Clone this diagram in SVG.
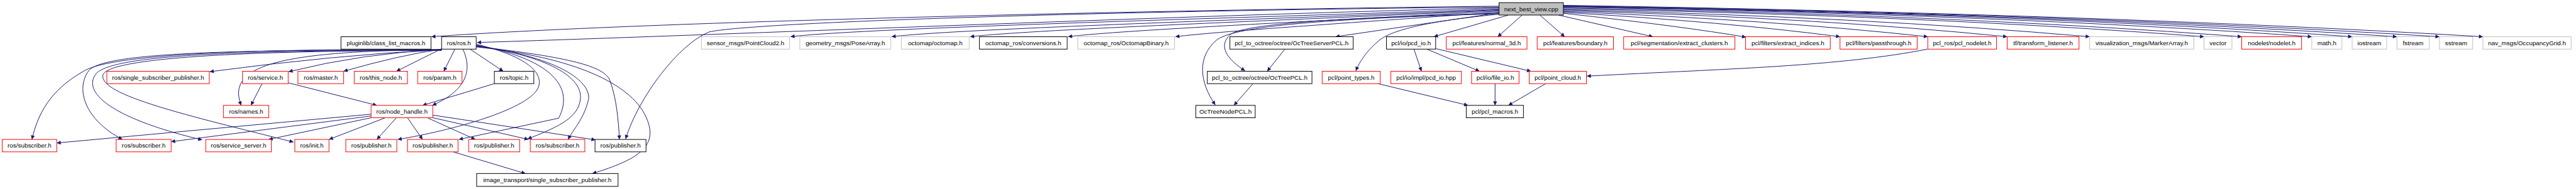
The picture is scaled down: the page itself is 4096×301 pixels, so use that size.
<svg xmlns="http://www.w3.org/2000/svg" width="4096" height="301" viewBox="0 0 4096 301">
<style>
.e{fill:none;stroke:#191970;stroke-width:1.4;marker-end:url(#ah)}
rect{stroke-width:1.4}
.b{fill:#fff;stroke:#000}
.r{fill:#fff;stroke:#ff0000}
.g{fill:#fff;stroke:#bfbfbf}
.root{fill:#bfbfbf;stroke:#000}
text{font-family:"Liberation Sans",Arial,sans-serif;font-size:14px;text-anchor:middle;fill:#000}
</style>
<defs>
<marker id="ah" viewBox="0 0 10 10" refX="10" refY="5" markerWidth="12" markerHeight="9" markerUnits="userSpaceOnUse" orient="auto">
<path d="M0,0 L10,5 L0,10 z" fill="#191970"/>
</marker>
</defs>
<rect x="0" y="0" width="4096" height="301" fill="#fff"/>
<g transform="scale(0.705)">
<g id="edges">
<path class="e" d="M3381,14 C2800,20 1500,45 973,83"/>
<path class="e" d="M3381,18 C2800,30 1600,80 1076,96"/>
<path class="e" d="M3381,20 C2900,38 1950,62 1783,83"/>
<path class="e" d="M3381,22 C2950,40 2150,65 2011,83"/>
<path class="e" d="M3381,23 C3000,42 2330,66 2188,83"/>
<path class="e" d="M3381,25 C3050,44 2520,68 2409,83"/>
<path class="e" d="M3381,27 C3150,45 2750,70 2651,83"/>
<path class="e" d="M3381,29 L3012,83"/>
<path class="e" d="M3381,16 C2500,24 1700,50 1600,72 C1530,100 1440,220 1411,314"/>
<path class="e" d="M3381,30 C3100,38 2810,50 2775,78 C2745,105 2770,135 2808,160"/>
<path class="e" d="M3381,31 C3000,42 2780,58 2742,92 C2700,130 2705,185 2741,237"/>
<path class="e" d="M3381,32 C3250,45 3150,62 3112,90 C3082,115 3066,140 3058,160"/>
<path class="e" d="M3402,34 L3234,83"/>
<path class="e" d="M3433,34 L3378,83"/>
<path class="e" d="M3473,34 L3529,83"/>
<path class="e" d="M3515,34 L3728,83"/>
<path class="e" d="M3526,30 Q3800,60 3938,84"/>
<path class="e" d="M3526,28 Q3900,50 4150,83"/>
<path class="e" d="M3526,26 Q4000,45 4348,83"/>
<path class="e" d="M3526,24 Q4100,40 4527,83"/>
<path class="e" d="M3526,22 Q4200,38 4713,83"/>
<path class="e" d="M3526,20 Q4350,35 4971,83"/>
<path class="e" d="M3526,18 Q4400,33 5056,83"/>
<path class="e" d="M3526,16 Q4500,32 5214,83"/>
<path class="e" d="M3526,15 Q4600,32 5305,83"/>
<path class="e" d="M3526,14 Q4650,32 5406,83"/>
<path class="e" d="M3526,13 Q4700,32 5502,83"/>
<path class="e" d="M3526,12 Q4750,32 5600,83"/>
<path class="e" d="M996,110 L894,161"/>
<path class="e" d="M996,111 Q900,125 775,161"/>
<path class="e" d="M996,112 Q820,120 651,162"/>
<path class="e" d="M996,112 Q750,125 473,162"/>
<path class="e" d="M996,112 C620,115 510,150 544,238"/>
<path class="e" d="M996,112 C600,110 260,120 190,160 C110,205 85,260 72,315"/>
<path class="e" d="M996,113 C500,112 230,120 200,160 C170,200 190,270 276,315"/>
<path class="e" d="M996,113 C520,114 260,125 218,165 C180,210 260,270 456,316"/>
<path class="e" d="M996,114 C560,114 240,130 232,170 C225,215 420,260 662,321"/>
<path class="e" d="M1044,111 C1062,150 1062,200 975,238"/>
<path class="e" d="M1026,111 L1001,161"/>
<path class="e" d="M1060,111 L1135,161"/>
<path class="e" d="M1074,100 C1180,125 1225,160 1215,195 C1200,245 1020,295 897,315"/>
<path class="e" d="M1074,102 C1230,130 1300,190 1260,267 L1035,315"/>
<path class="e" d="M1074,103 C1250,130 1320,180 1308,230 C1300,270 1250,290 1190,314"/>
<path class="e" d="M1074,104 C1270,130 1340,190 1326,230 C1315,270 1295,290 1281,315"/>
<path class="e" d="M1074,105 C1290,130 1360,150 1375,180 C1390,220 1395,270 1397,315"/>
<path class="e" d="M1074,106 C1300,130 1420,190 1455,260 C1490,330 1440,360 1336,392"/>
<path class="e" d="M837,258 L128,323"/>
<path class="e" d="M837,262 L386,320"/>
<path class="e" d="M837,266 L606,315"/>
<path class="e" d="M869,266 L742,315"/>
<path class="e" d="M894,266 L850,315"/>
<path class="e" d="M919,266 L953,315"/>
<path class="e" d="M966,267 L1072,315"/>
<path class="e" d="M972,265 L1192,315"/>
<path class="e" d="M976,260 L1343,316"/>
<path class="e" d="M591,189 L566,238"/>
<path class="e" d="M650,187 L850,238"/>
<path class="e" d="M1115,189 L953,238"/>
<path class="e" d="M1022,343 L1185,392"/>
<path class="e" d="M2898,111 L2858,161"/>
<path class="e" d="M2826,189 L2783,238"/>
<path class="e" d="M3189,111 L3206,161"/>
<path class="e" d="M3218,111 L3337,161"/>
<path class="e" d="M3239,110 L3453,161"/>
<path class="e" d="M3108,189 L3311,238"/>
<path class="e" d="M3372,189 L3372,238"/>
<path class="e" d="M3486,189 L3402,238"/>
<path class="e" d="M4347,111 C4150,150 3900,155 3579,172"/>
</g>
<g id="n_root"><rect class="root" x="3381" y="6" width="145" height="28"/><text x="3453.5" y="25">next_best_view.cpp</text></g>
<g id="n_pluginlib"><rect class="b" x="769" y="83" width="203" height="28"/><text x="870.5" y="102">pluginlib/class_list_macros.h</text></g>
<g id="n_ros"><rect class="b" x="996" y="83" width="78" height="28"/><text x="1035" y="102">ros/ros.h</text></g>
<g id="n_pc2"><rect class="g" x="1582" y="83" width="199" height="28"/><text x="1681.5" y="102">sensor_msgs/PointCloud2.h</text></g>
<g id="n_posearray"><rect class="g" x="1804" y="83" width="205" height="28"/><text x="1906.5" y="102">geometry_msgs/PoseArray.h</text></g>
<g id="n_octomap"><rect class="g" x="2033" y="83" width="153" height="28"/><text x="2109.5" y="102">octomap/octomap.h</text></g>
<g id="n_conversions"><rect class="b" x="2209" y="83" width="198" height="28"/><text x="2308" y="102">octomap_ros/conversions.h</text></g>
<g id="n_octobin"><rect class="g" x="2431" y="83" width="218" height="28"/><text x="2540" y="102">octomap_ros/OctomapBinary.h</text></g>
<g id="n_octserver"><rect class="b" x="2774" y="83" width="278" height="28"/><text x="2913" y="102">pcl_to_octree/octree/OcTreeServerPCL.h</text></g>
<g id="n_pcdio"><rect class="b" x="3127" y="83" width="111" height="28"/><text x="3182.5" y="102">pcl/io/pcd_io.h</text></g>
<g id="n_normal"><rect class="r" x="3262" y="83" width="182" height="28"/><text x="3353" y="102">pcl/features/normal_3d.h</text></g>
<g id="n_boundary"><rect class="r" x="3467" y="83" width="172" height="28"/><text x="3553" y="102">pcl/features/boundary.h</text></g>
<g id="n_clusters"><rect class="r" x="3662" y="83" width="251" height="28"/><text x="3787.5" y="102">pcl/segmentation/extract_clusters.h</text></g>
<g id="n_indices"><rect class="r" x="3937" y="83" width="191" height="28"/><text x="4032.5" y="102">pcl/filters/extract_indices.h</text></g>
<g id="n_pass"><rect class="r" x="4150" y="83" width="174" height="28"/><text x="4237" y="102">pcl/filters/passthrough.h</text></g>
<g id="n_pclnodelet"><rect class="r" x="4348" y="83" width="155" height="28"/><text x="4425.5" y="102">pcl_ros/pcl_nodelet.h</text></g>
<g id="n_tf"><rect class="r" x="4527" y="83" width="162" height="28"/><text x="4608" y="102">tf/transform_listener.h</text></g>
<g id="n_marker"><rect class="g" x="4713" y="83" width="235" height="28"/><text x="4830.5" y="102">visualization_msgs/MarkerArray.h</text></g>
<g id="n_vector"><rect class="g" x="4971" y="83" width="63" height="28"/><text x="5002.5" y="102">vector</text></g>
<g id="n_nodelet"><rect class="r" x="5056" y="83" width="135" height="28"/><text x="5123.5" y="102">nodelet/nodelet.h</text></g>
<g id="n_math"><rect class="g" x="5214" y="83" width="68" height="28"/><text x="5248" y="102">math.h</text></g>
<g id="n_iostream"><rect class="g" x="5305" y="83" width="78" height="28"/><text x="5344" y="102">iostream</text></g>
<g id="n_fstream"><rect class="g" x="5406" y="83" width="73" height="28"/><text x="5442.5" y="102">fstream</text></g>
<g id="n_sstream"><rect class="g" x="5502" y="83" width="75" height="28"/><text x="5539.5" y="102">sstream</text></g>
<g id="n_occgrid"><rect class="g" x="5600" y="83" width="199" height="28"/><text x="5699.5" y="102">nav_msgs/OccupancyGrid.h</text></g>
<g id="n_ssp"><rect class="r" x="241" y="161" width="231" height="28"/><text x="356.5" y="180">ros/single_subscriber_publisher.h</text></g>
<g id="n_service"><rect class="r" x="547" y="161" width="103" height="28"/><text x="598.5" y="180">ros/service.h</text></g>
<g id="n_master"><rect class="r" x="672" y="161" width="103" height="28"/><text x="723.5" y="180">ros/master.h</text></g>
<g id="n_thisnode"><rect class="r" x="799" y="161" width="120" height="28"/><text x="859" y="180">ros/this_node.h</text></g>
<g id="n_param"><rect class="r" x="942" y="161" width="100" height="28"/><text x="992" y="180">ros/param.h</text></g>
<g id="n_topic"><rect class="b" x="1115" y="161" width="89" height="28"/><text x="1159.5" y="180">ros/topic.h</text></g>
<g id="n_octpcl"><rect class="b" x="2723" y="161" width="236" height="28"/><text x="2841" y="180">pcl_to_octree/octree/OcTreePCL.h</text></g>
<g id="n_pointtypes"><rect class="r" x="2982" y="161" width="131" height="28"/><text x="3047.5" y="180">pcl/point_types.h</text></g>
<g id="n_pcdhpp"><rect class="r" x="3137" y="161" width="159" height="28"/><text x="3216.5" y="180">pcl/io/impl/pcd_io.hpp</text></g>
<g id="n_fileio"><rect class="r" x="3319" y="161" width="107" height="28"/><text x="3372.5" y="180">pcl/io/file_io.h</text></g>
<g id="n_pointcloud"><rect class="r" x="3449" y="161" width="129" height="28"/><text x="3513.5" y="180">pcl/point_cloud.h</text></g>
<g id="n_names"><rect class="r" x="504" y="238" width="102" height="28"/><text x="555" y="257">ros/names.h</text></g>
<g id="n_nodehandle"><rect class="r" x="837" y="238" width="139" height="28"/><text x="906.5" y="257">ros/node_handle.h</text></g>
<g id="n_octnode"><rect class="b" x="2697" y="238" width="134" height="28"/><text x="2764" y="257">OcTreeNodePCL.h</text></g>
<g id="n_pclmacros"><rect class="b" x="3307" y="238" width="129" height="28"/><text x="3371.5" y="257">pcl/pcl_macros.h</text></g>
<g id="n_sub1"><rect class="r" x="5" y="315" width="123" height="28"/><text x="66.5" y="334">ros/subscriber.h</text></g>
<g id="n_sub2"><rect class="r" x="262" y="315" width="124" height="28"/><text x="324" y="334">ros/subscriber.h</text></g>
<g id="n_srvserver"><rect class="r" x="464" y="315" width="148" height="28"/><text x="538" y="334">ros/service_server.h</text></g>
<g id="n_init"><rect class="r" x="665" y="315" width="77" height="28"/><text x="703.5" y="334">ros/init.h</text></g>
<g id="n_pub1"><rect class="r" x="780" y="315" width="115" height="28"/><text x="837.5" y="334">ros/publisher.h</text></g>
<g id="n_pub2"><rect class="r" x="919" y="315" width="114" height="28"/><text x="976" y="334">ros/publisher.h</text></g>
<g id="n_pub3"><rect class="r" x="1057" y="315" width="115" height="28"/><text x="1114.5" y="334">ros/publisher.h</text></g>
<g id="n_sub3"><rect class="r" x="1196" y="315" width="123" height="28"/><text x="1257.5" y="334">ros/subscriber.h</text></g>
<g id="n_pub4"><rect class="b" x="1342" y="315" width="115" height="28"/><text x="1399.5" y="334">ros/publisher.h</text></g>
<g id="n_itssp"><rect class="b" x="1075" y="392" width="319" height="29"/><text x="1234.5" y="411">image_transport/single_subscriber_publisher.h</text></g>
</g>
</svg>
